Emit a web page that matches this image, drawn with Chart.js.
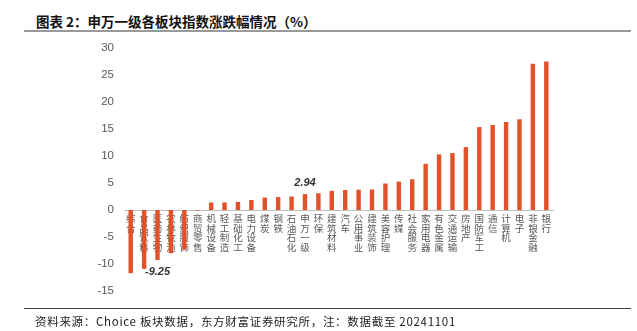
<!DOCTYPE html>
<html>
<head>
<meta charset="utf-8">
<script src="https://cdn.jsdelivr.net/npm/chart.js@4"></script>
<style>
  html, body { margin: 0; padding: 0; background: #fff; }
  body { width: 637px; height: 331px; position: relative; overflow: hidden; }
  #title { position: absolute; left: 36px; top: 11px; font: bold 13.5px "Noto Sans CJK SC"; color: #111; letter-spacing: 0px; }
  #topline { position: absolute; left: 24px; top: 30px; width: 607px; height: 2px; background: #999; }
  #botline { position: absolute; left: 24px; top: 308px; width: 607px; height: 1px; background: #444; }
  #source { position: absolute; left: 35px; top: 313px; font: 11.5px "Noto Sans CJK SC"; color: #222; letter-spacing: 0.7px; }
  #wrap { position: absolute; left: 0; top: 0; width: 637px; height: 331px; }
</style>
</head>
<body>
<div id="title">图表 2：申万一级各板块指数涨跌幅情况（%）</div>
<div id="topline"></div>
<div id="wrap"><canvas id="chart"></canvas></div>
<div id="botline"></div>
<div id="source">资料来源：Choice 板块数据，东方财富证券研究所，注：数据截至 20241101</div>
<script>
var categories = ["综合","食品饮料","医药生物","农林牧渔","纺织服饰","商贸零售","机械设备","轻工制造","基础化工","电力设备","煤炭","钢铁","石油石化","申万一级","环保","建筑材料","汽车","公用事业","建筑装饰","美容护理","传媒","社会服务","家用电器","有色金属","交通运输","房地产","国防军工","通信","计算机","电子","非银金融","银行"];
var changes = [-11.7,-10.9,-9.25,-8.0,-7.3,-0.1,1.4,1.4,1.5,1.85,2.3,2.4,2.5,2.94,3.1,3.55,3.7,3.75,3.8,4.9,5.25,5.7,8.55,10.3,10.55,11.65,15.35,15.75,16.3,16.8,27.1,27.5];
var yTicks = [-15,-10,-5,0,5,10,15,20,25,30];
// only these two bars carry a value label in the original
var labelled = ["医药生物","申万一级"];

const valueLabels = {
  id: "valueLabels",
  afterDatasetsDraw(chart) {
    const ctx = chart.ctx;
    const meta = chart.getDatasetMeta(0);
    ctx.save();
    ctx.font = "italic bold 11px 'Liberation Sans'";
    ctx.fillStyle = "#333";
    ctx.textAlign = "center";
    ctx.textBaseline = "middle";
    labelled.forEach(name => {
      const i = categories.indexOf(name);
      const bar = meta.data[i];
      const v = changes[i];
      const y = v < 0 ? bar.y + 12 : bar.y - 11;
      ctx.fillText(v.toFixed(2), bar.x, y);
    });
    ctx.restore();
  }
};

new Chart(document.getElementById("chart").getContext("2d"), {
  type: "bar",
  data: {
    labels: categories.map(c => c.split("")),
    datasets: [{
      data: changes,
      backgroundColor: "#E1522A",
      barPercentage: 0.33,
      categoryPercentage: 1
    }]
  },
  options: {
    responsive: true,
    maintainAspectRatio: false,
    animation: false,
    layout: { padding: { left: 84, right: 84, top: 48, bottom: 40 } },
    plugins: { legend: { display: false }, tooltip: { enabled: false } },
    scales: {
      x: {
        position: { y: 0 },
        grid: { display: false, drawTicks: false },
        border: { display: true, color: "#BFBFBF", width: 1 },
        ticks: {
          padding: 4,
          autoSkip: false,
          maxRotation: 0,
          color: "#595959",
          font: { family: "'Noto Sans CJK SC'", size: 9.5, lineHeight: 1.0 }
        }
      },
      y: {
        min: -15,
        max: 30,
        afterFit: s => { s.width = 40; },
        afterBuildTicks: s => { s.ticks = yTicks.map(v => ({ value: v })); },
        grid: { display: false, drawTicks: false },
        border: { display: false },
        ticks: {
          padding: 10,
          color: "#595959",
          font: { family: "'Liberation Sans'", size: 11.5 }
        }
      }
    }
  },
  plugins: [valueLabels]
});
</script>
</body>
</html>
